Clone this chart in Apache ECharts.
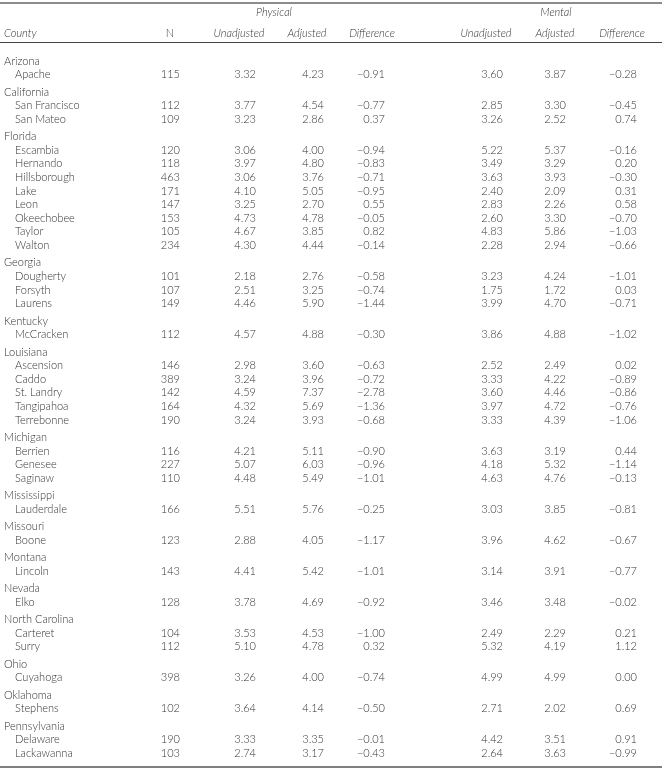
<!DOCTYPE html>
<html>
<head>
<meta charset="utf-8">
<script src="https://cdn.jsdelivr.net/npm/echarts@6/dist/echarts.min.js"></script>
<style>
html,body{margin:0;padding:0;background:#fff;}
#chart{width:662px;height:772px;}
</style>
</head>
<body>
<div id="chart"></div>
<script>
// ---- data ----
const states = ['Arizona','California','Florida','Georgia','Kentucky','Louisiana','Michigan','Mississippi','Missouri','Montana','Nevada','North Carolina','Ohio','Oklahoma','Pennsylvania'];
const stateCounts = [1,2,8,3,1,5,3,1,1,1,1,2,1,1,2];
const counties = ['Apache','San Francisco','San Mateo','Escambia','Hernando','Hillsborough','Lake','Leon','Okeechobee','Taylor','Walton','Dougherty','Forsyth','Laurens','McCracken','Ascension','Caddo','St. Landry','Tangipahoa','Terrebonne','Berrien','Genesee','Saginaw','Lauderdale','Boone','Lincoln','Elko','Carteret','Surry','Cuyahoga','Stephens','Delaware','Lackawanna'];
const N = [115,112,109,120,118,463,171,147,153,105,234,101,107,149,112,146,389,142,164,190,116,227,110,166,123,143,128,104,112,398,102,190,103];
const physUnadj = [3.32,3.77,3.23,3.06,3.97,3.06,4.10,3.25,4.73,4.67,4.30,2.18,2.51,4.46,4.57,2.98,3.24,4.59,4.32,3.24,4.21,5.07,4.48,5.51,2.88,4.41,3.78,3.53,5.10,3.26,3.64,3.33,2.74];
const physAdj = [4.23,4.54,2.86,4.00,4.80,3.76,5.05,2.70,4.78,3.85,4.44,2.76,3.25,5.90,4.88,3.60,3.96,7.37,5.69,3.93,5.11,6.03,5.49,5.76,4.05,5.42,4.69,4.53,4.78,4.00,4.14,3.35,3.17];
const physDiff = [-0.91,-0.77,0.37,-0.94,-0.83,-0.71,-0.95,0.55,-0.05,0.82,-0.14,-0.58,-0.74,-1.44,-0.30,-0.63,-0.72,-2.78,-1.36,-0.68,-0.90,-0.96,-1.01,-0.25,-1.17,-1.01,-0.92,-1.00,0.32,-0.74,-0.50,-0.01,-0.43];
const mentUnadj = [3.60,2.85,3.26,5.22,3.49,3.63,2.40,2.83,2.60,4.83,2.28,3.23,1.75,3.99,3.86,2.52,3.33,3.60,3.97,3.33,3.63,4.18,4.63,3.03,3.96,3.14,3.46,2.49,5.32,4.99,2.71,4.42,2.64];
const mentAdj = [3.87,3.30,2.52,5.37,3.29,3.93,2.09,2.26,3.30,5.86,2.94,4.24,1.72,4.70,4.88,2.49,4.22,4.46,4.72,4.39,3.19,5.32,4.76,3.85,4.62,3.91,3.48,2.29,4.19,4.99,2.02,3.51,3.63];
const mentDiff = [-0.28,-0.45,0.74,-0.16,0.20,-0.30,0.31,0.58,-0.70,-1.03,-0.66,-1.01,0.03,-0.71,-1.02,0.02,-0.89,-0.86,-0.76,-1.06,0.44,-1.14,-0.13,-0.81,-0.67,-0.77,-0.02,0.21,1.12,0.00,0.69,0.91,-0.99];
const groupHeaders = ['Physical','Mental'];
const colHeaders = ['County','N','Unadjusted','Adjusted','Difference','Unadjusted','Adjusted','Difference'];

// ---- layout ----
const W = 662, H = 772;
const PITCH = 13.6, GAP = 3.8, FIRST = 61;
const FONT = 'Lato, "Open Sans", sans-serif';
const COLOR = '#333';
const numCols = [
  {vals: N, x: 180, fmt: v => String(v)},
  {vals: physUnadj, x: 256},
  {vals: physAdj, x: 324},
  {vals: physDiff, x: 385},
  {vals: mentUnadj, x: 503},
  {vals: mentAdj, x: 566},
  {vals: mentDiff, x: 637}
];
const headerX = [4, 170, 239, 307, 372, 486, 555, 622];
const headerAlign = ['left','center','center','center','center','center','center','center'];
const groupX = [274, 556];
const HEADER_Y = 33, GROUP_Y = 12;

function fmt2(v){ const s = Math.abs(v).toFixed(2); return v < 0 ? '\u2212' + s : s; }

// compute row positions
const stateY = [], countyY = [];
(function(){
  let y = FIRST;
  states.forEach((s, g) => {
    if (g > 0) y += GAP;
    stateY.push(y); y += PITCH;
    for (let k = 0; k < stateCounts[g]; k++) { countyY.push(y); y += PITCH; }
  });
})();

function textSeries(name, points, texts, align, italic){
  return {
    type: 'custom', name: name, coordinateSystem: 'cartesian2d', silent: true,
    data: points,
    renderItem: function(params, api){
      const p = api.coord([api.value(0), api.value(1)]);
      return {
        type: 'text', x: p[0], y: p[1],
        style: {
          text: texts[params.dataIndex], align: align, verticalAlign: 'middle',
          fontFamily: FONT, fontSize: 11, fontStyle: italic ? 'italic' : 'normal',
          fontWeight: 300, fill: COLOR
        }
      };
    }
  };
}

const series = [];
series.push(textSeries('states', stateY.map(y => [4, y]), states, 'left', false));
series.push(textSeries('counties', countyY.map(y => [15, y]), counties, 'left', false));
numCols.forEach((c, i) => {
  const f = c.fmt || fmt2;
  series.push(textSeries('col' + i, countyY.map(y => [c.x, y]), c.vals.map(f), 'right', false));
});
colHeaders.forEach((h, i) => {
  series.push(textSeries('h' + i, [[headerX[i], HEADER_Y]], [h], headerAlign[i], h !== 'N'));
});
series.push(textSeries('groups', groupX.map(x => [x, GROUP_Y]), groupHeaders, 'center', true));

const chart = echarts.init(document.getElementById('chart'), null, {renderer: 'canvas'});
chart.setOption({
  animation: false,
  grid: {left: 0, right: 0, top: 0, bottom: 0},
  xAxis: {type: 'value', min: 0, max: W, show: false},
  yAxis: {type: 'value', min: 0, max: H, inverse: true, show: false},
  graphic: [
    {type: 'line', shape: {x1: 0, y1: 3, x2: W, y2: 3}, style: {stroke: '#8c8c8c', lineWidth: 2}},
    {type: 'line', shape: {x1: 0, y1: 42.5, x2: W, y2: 42.5}, style: {stroke: '#444', lineWidth: 1}},
    {type: 'line', shape: {x1: 0, y1: 767, x2: W, y2: 767}, style: {stroke: '#555', lineWidth: 1.5}}
  ],
  series: series
});
</script>
</body>
</html>
